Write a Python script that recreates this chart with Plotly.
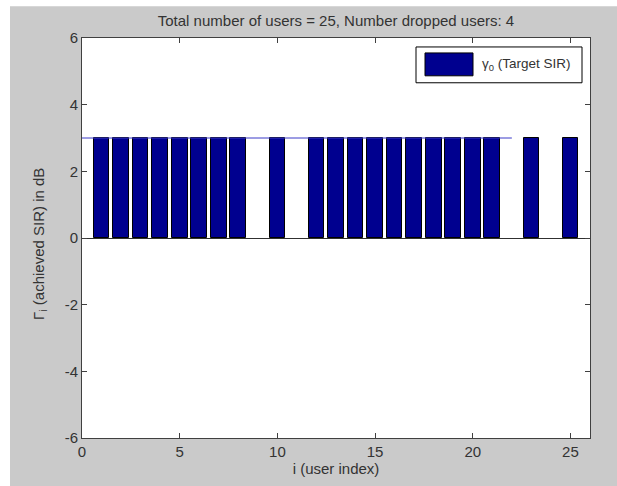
import plotly.graph_objects as go

# Per-user achieved SIR (dB); dropped users (9, 11, 22, 24) have no bar
users = list(range(1, 26))
achieved_sir_db = [3, 3, 3, 3, 3, 3, 3, 3, 0, 3, 0, 3, 3, 3, 3, 3, 3, 3, 3, 3, 3, 0, 3, 0, 3]

# Target SIR reference line
target_x = [0, 22]
target_db = [3, 3]

x_ticks = [0, 5, 10, 15, 20, 25]
y_ticks = [-6, -4, -2, 0, 2, 4, 6]
y_tick_labels = ["-6", "-4", "-2", "0", "2", "4", "6"]

title_text = "Total number of users = 25, Number dropped users: 4"
x_title = "i (user index)"
y_title = "Γ<sub>i</sub> (achieved SIR) in dB"
legend_text = "γ<sub>0</sub> (Target SIR)"

W, H = 617, 486
L, R, T, B = 82, 27, 38, 46
pw, ph = W - L - R, H - T - B

def px_x(p):
    return (p - L) / pw

def px_y(p):
    return (H - B - p) / ph

FONT = "Liberation Sans, Arial, Helvetica, sans-serif"
TXT = "#333333"
BAR = "#00008f"
FS = 15

# zero-height bars get no outline so nothing shows for dropped users
edge_widths = [1 if v != 0 else 0 for v in achieved_sir_db]

fig = go.Figure()
fig.add_trace(go.Bar(
    x=users, y=achieved_sir_db, width=0.8,
    marker=dict(color=BAR, line=dict(color="#000000", width=edge_widths)),
    showlegend=False,
))
fig.add_trace(go.Scatter(
    x=target_x, y=target_db, mode="lines",
    line=dict(color="#3a3ac8", width=1), showlegend=False,
))

shapes = [
    # grey figure window with a thin white strip at top and left
    dict(type="rect", xref="paper", yref="paper", layer="below",
         x0=px_x(10), x1=px_x(W + 5), y0=px_y(H + 5), y1=px_y(6),
         fillcolor="#cacaca", line=dict(width=0)),
    dict(type="rect", xref="paper", yref="paper", layer="below",
         x0=0, x1=1, y0=0, y1=1, fillcolor="#ffffff", line=dict(width=0)),
    # legend box
    dict(type="rect", xref="paper", yref="paper",
         x0=px_x(416), x1=px_x(582), y0=px_y(83), y1=px_y(47),
         fillcolor="#ffffff", line=dict(color="#000000", width=1)),
    dict(type="rect", xref="paper", yref="paper",
         x0=px_x(425), x1=px_x(473), y0=px_y(76), y1=px_y(53),
         fillcolor=BAR, line=dict(color="#000000", width=1)),
]

annotations = [
    dict(text=legend_text, xref="paper", yref="paper",
         x=px_x(480), y=px_y(65), xanchor="left", yanchor="middle",
         showarrow=False, font=dict(family=FONT, size=13.5, color=TXT)),
    # vertical axis label, placed next to the tick labels
    dict(text=y_title, xref="paper", yref="paper", textangle=-90,
         x=px_x(40), y=px_y(245), xanchor="center", yanchor="middle",
         showarrow=False, font=dict(family=FONT, size=FS, color=TXT)),
]

axis_common = dict(
    showline=True, linecolor="#404040", linewidth=1, mirror="ticks",
    ticks="inside", ticklen=5, tickcolor="#404040",
    showgrid=False, tickfont=dict(family=FONT, size=FS, color=TXT),
)

fig.update_layout(
    width=W, height=H,
    margin=dict(l=L, r=R, t=T, b=B),
    paper_bgcolor="#ffffff", plot_bgcolor="rgba(0,0,0,0)",
    font=dict(family=FONT, size=FS, color=TXT),
    title=dict(text=title_text, x=(L + pw / 2) / W, xanchor="center",
               y=1 - 21 / H, yanchor="middle", yref="container",
               font=dict(family=FONT, size=FS, color=TXT)),
    xaxis=dict(range=[0, 26], tickvals=x_ticks, zeroline=False,
               title=dict(text=x_title, standoff=3,
                          font=dict(family=FONT, size=FS, color=TXT)),
               **axis_common),
    yaxis=dict(range=[-6, 6], tickvals=y_ticks, ticktext=y_tick_labels,
               zeroline=True, zerolinecolor="#303030", zerolinewidth=1,
               **axis_common),
    shapes=shapes, annotations=annotations,
    bargap=0,
)

fig.write_html("out.html")
